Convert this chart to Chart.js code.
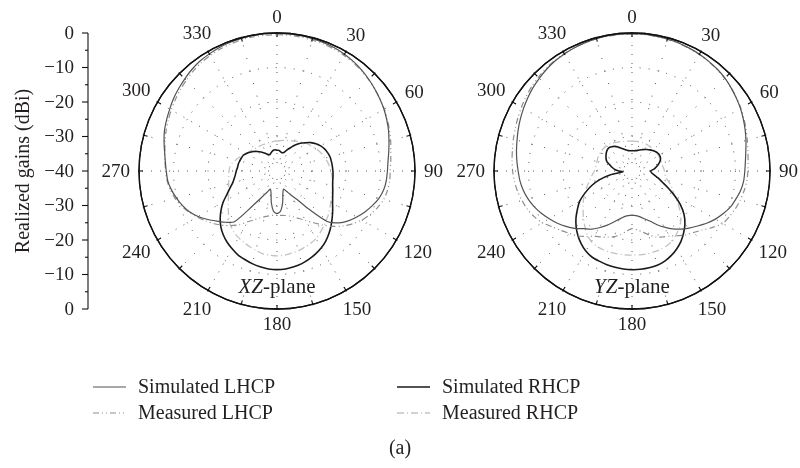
<!DOCTYPE html>
<html>
<head>
<meta charset="utf-8">
<script src="https://cdn.jsdelivr.net/npm/chart.js@4.4.1/dist/chart.umd.min.js"></script>
<style>
  html, body { margin: 0; padding: 0; background: #fff; }
  #wrap { position: relative; width: 800px; height: 468px; }
  #wrap canvas { position: absolute; left: 0; top: 0; }
</style>
</head>
<body>
<div id="wrap">
  <canvas id="xz" width="800" height="468"></canvas>
  <canvas id="yz" width="800" height="468"></canvas>
</div>
<script>
// Azimuth of every sample, degrees (0 at top, clockwise)
const angles = [0,5,10,15,20,25,30,35,40,45,50,55,60,65,70,75,80,85,90,95,100,105,110,115,
  120,125,130,135,140,145,150,155,160,165,170,175,180,185,190,195,200,205,210,215,220,225,230,235,
  240,245,250,255,260,265,270,275,280,285,290,295,300,305,310,315,320,325,330,335,340,345,350,355];

// Angular tick labels and gain axis ticks
const angleTickLabels = ['0','30','60','90','120','150','180','210','240','270','300','330'];
const gainTicks = [0, -10, -20, -30];
const gainCenterTick = -40;
const gainMinorTicks = [-5, -15, -25, -35];

// XZ-plane realized gains (dBi)
const xzSimLHCP = [-0.1,-0.1,-0.2,-0.3,-0.4,-0.6,-0.9,-1.3,-1.8,-2.4,-3.0,-3.6,-4.2,-4.9,-5.6,-6.4,-7.1,-7.7,
  -8.0,-8.2,-8.6,-9.4,-10.6,-11.9,-13.3,-14.8,-16.6,-19.2,-25.5,-30.0,-32.0,-33.5,-34.4,-33.4,-30.6,-28.3,
  -27.7,-28.3,-30.6,-33.3,-34.4,-33.2,-31.3,-27.6,-20.8,-19.0,-17.4,-15.5,-13.6,-12.0,-10.8,-9.8,-8.9,-8.2,
  -7.9,-7.5,-6.9,-6.1,-5.3,-4.7,-4.1,-3.4,-2.8,-2.2,-1.6,-1.1,-0.8,-0.5,-0.3,-0.2,-0.1,0];
const xzMeasLHCP = [-0.5,-0.5,-0.6,-0.7,-0.8,-1.0,-1.3,-1.6,-2.0,-2.5,-3.0,-3.6,-4.1,-4.7,-5.3,-5.9,-6.5,-6.9,
  -7.2,-7.2,-7.5,-8.0,-9.0,-10.2,-11.6,-13.3,-15.2,-17.3,-19.6,-21.7,-23.4,-24.8,-25.8,-26.5,-26.9,-27.1,
  -27.2,-27.1,-26.8,-26.3,-25.5,-24.4,-23.0,-21.0,-19.3,-17.8,-16.2,-14.8,-13.3,-11.8,-10.5,-9.4,-8.6,-8.0,
  -7.7,-7.4,-7.0,-6.4,-5.8,-5.2,-4.6,-4.0,-3.4,-2.8,-2.2,-1.7,-1.3,-1.0,-0.8,-0.6,-0.5,-0.5];
const xzSimRHCP = [-34.0,-34.0,-34.3,-34.5,-34.3,-33.3,-32.2,-30.8,-29.5,-28.4,-27.2,-26.2,-25.4,-24.8,-24.4,-24.1,-24.0,-23.9,
  -23.8,-23.7,-23.6,-23.3,-22.8,-22.2,-21.4,-20.3,-19.1,-17.8,-16.5,-15.3,-14.3,-13.5,-12.8,-12.2,-11.8,-11.5,
  -11.4,-11.5,-11.8,-12.2,-12.7,-13.2,-14.0,-14.8,-15.8,-17.0,-18.5,-20.2,-22.0,-24.0,-25.5,-26.7,-27.4,-27.9,
  -28.2,-28.5,-28.6,-28.8,-29.0,-29.2,-29.8,-30.5,-31.2,-32.0,-32.8,-33.6,-34.4,-34.8,-34.6,-34.2,-33.9,-33.8];
const xzMeasRHCP = [-31.3,-31.2,-31.0,-30.8,-30.6,-30.3,-30.0,-29.5,-29.0,-28.5,-28.0,-27.6,-27.0,-26.5,-26.0,-25.6,-25.1,-24.7,
  -24.4,-24.0,-23.6,-23.2,-22.9,-22.6,-22.0,-21.3,-20.5,-19.8,-19.0,-18.2,-17.4,-16.9,-16.5,-16.1,-15.8,-15.5,
  -15.4,-15.5,-15.7,-16.2,-16.7,-17.2,-17.7,-18.3,-19.2,-20.3,-21.6,-22.7,-23.7,-24.5,-25.0,-25.5,-25.8,-26.0,
  -26.1,-26.3,-26.8,-27.6,-28.4,-29.1,-29.7,-30.2,-30.6,-30.9,-31.1,-31.2,-31.3,-31.4,-31.4,-31.4,-31.4,-31.3];

// YZ-plane realized gains (dBi)
const yzSimLHCP = [-0.2,-0.2,-0.3,-0.4,-0.5,-0.7,-0.9,-1.2,-1.5,-1.9,-2.5,-3.1,-3.7,-4.4,-5.1,-5.8,-6.5,-7.0,
  -7.3,-7.5,-8.0,-8.8,-9.6,-10.8,-12.1,-13.6,-15.2,-16.6,-18.0,-19.5,-21.2,-22.8,-24.5,-25.6,-26.5,-27.0,
  -27.2,-27.0,-26.5,-25.5,-24.2,-22.6,-21.0,-19.4,-18.2,-16.5,-15.0,-13.6,-12.3,-11.0,-9.8,-8.8,-8.0,-7.4,
  -7.0,-6.5,-6.0,-5.5,-4.9,-4.3,-3.7,-3.1,-2.5,-2.0,-1.5,-1.1,-0.8,-0.6,-0.4,-0.3,-0.2,-0.2];
const yzMeasLHCP = [-0.3,-0.3,-0.4,-0.5,-0.6,-0.8,-1.0,-1.3,-1.6,-2.0,-2.5,-3.0,-3.6,-4.2,-4.8,-5.4,-5.9,-6.2,
  -6.4,-6.6,-7.0,-7.5,-8.1,-8.8,-9.6,-11.5,-13.4,-14.8,-15.8,-17.1,-18.2,-18.9,-19.6,-20.8,-22.0,-22.9,
  -23.3,-22.5,-21.3,-20.3,-19.6,-18.9,-18.2,-16.8,-15.5,-14.4,-13.2,-11.8,-10.0,-8.7,-7.7,-7.0,-6.3,-5.8,
  -5.4,-5.1,-4.8,-4.4,-4.0,-3.5,-3.0,-2.5,-2.0,-1.6,-1.2,-0.9,-0.7,-0.5,-0.4,-0.3,-0.3,-0.3];
const yzSimRHCP = [-34.1,-34.1,-34.0,-33.8,-33.5,-33.2,-32.8,-32.4,-32.0,-31.6,-31.2,-30.9,-30.8,-30.9,-31.3,-32.0,-32.8,-33.6,
  -34.6,-34.3,-33.5,-32.2,-30.7,-28.5,-25.8,-22.8,-20.3,-18.3,-16.7,-15.2,-14.0,-13.0,-12.2,-11.7,-11.5,-11.4,
  -11.4,-11.5,-11.7,-11.9,-12.2,-12.5,-13.2,-14.3,-15.6,-17.1,-18.8,-20.7,-22.5,-25.0,-27.5,-30.3,-33.5,-37.3,
  -36.2,-35.0,-34.2,-33.4,-32.3,-31.7,-31.3,-30.9,-30.6,-30.5,-30.8,-31.3,-32.0,-32.7,-33.3,-33.7,-34.0,-34.1];
const yzMeasRHCP = [-31.3,-31.3,-31.3,-31.3,-31.2,-31.2,-31.2,-31.2,-31.2,-31.2,-31.1,-31.1,-31.1,-31.1,-31.1,-31.1,-31.0,-30.8,
  -30.6,-30.4,-30.2,-29.2,-28.0,-27.0,-25.8,-23.8,-21.8,-20.0,-18.6,-17.6,-16.6,-16.1,-15.8,-15.7,-15.6,-15.6,
  -15.6,-15.6,-15.6,-15.6,-15.7,-15.9,-16.4,-17.4,-18.8,-20.2,-21.5,-22.7,-23.8,-25.0,-26.0,-27.0,-27.8,-28.5,
  -29.1,-29.4,-29.5,-29.5,-29.4,-29.4,-29.4,-29.4,-29.5,-29.6,-29.8,-30.1,-30.4,-30.7,-30.9,-31.1,-31.2,-31.3];

const SERIF = '"Liberation Serif", "DejaVu Serif", serif';
const TEXT_COLOR = '#231f20';
const DOT_COLOR = 'rgba(30,30,30,0.75)';

// Line styles of the four traces
const traceStyles = [
  { label: 'Simulated LHCP', borderColor: '#525252', borderWidth: 1.2, borderDash: [] },
  { label: 'Measured LHCP',  borderColor: '#8e8e8e', borderWidth: 1.2, borderDash: [6, 3, 1, 3, 1, 3] },
  { label: 'Simulated RHCP', borderColor: '#1a1a1a', borderWidth: 1.6, borderDash: [] },
  { label: 'Measured RHCP',  borderColor: '#c2c2c2', borderWidth: 1.3, borderDash: [7, 3, 1, 3] }
];

function buildDatasets(series) {
  return series.map((values, i) => Object.assign({}, traceStyles[i], {
    data: values, fill: false, pointRadius: 0, pointHitRadius: 0, tension: 0.25
  }));
}

// Ring ticks, angle labels, plane name, and (for the XZ chart) the gain axis, legend and caption
const polarDecor = {
  id: 'polarDecor',
  afterDatasetsDraw(chart, args, opts) {
    const s = chart.scales.r;
    const ctx = chart.ctx;
    const R = s.drawingArea;
    const cx = s.xCenter, cy = s.yCenter;
    ctx.save();

    // outer ring
    ctx.setLineDash([]);
    ctx.strokeStyle = '#111';
    ctx.lineWidth = 1.3;
    ctx.beginPath();
    ctx.arc(cx, cy, R, 0, Math.PI * 2);
    ctx.stroke();

    // ring ticks every 15 degrees
    ctx.lineWidth = 1.1;
    angles.forEach((a, i) => {
      if (a % 15 !== 0) return;
      const p1 = s.getPointPosition(i, R + 1);
      const p2 = s.getPointPosition(i, R - 4);
      ctx.beginPath();
      ctx.moveTo(p1.x, p1.y);
      ctx.lineTo(p2.x, p2.y);
      ctx.stroke();
    });

    // angle labels
    ctx.font = '19px ' + SERIF;
    ctx.fillStyle = TEXT_COLOR;
    ctx.textAlign = 'center';
    ctx.textBaseline = 'middle';
    angleTickLabels.forEach(txt => {
      const i = angles.indexOf(Number(txt));
      const th = s.getIndexAngle(i);
      const w = ctx.measureText(txt).width;
      const off = 9 + (w / 2) * Math.abs(Math.sin(th)) + 6.5 * Math.abs(Math.cos(th));
      const p = s.getPointPosition(i, R + off);
      ctx.fillText(txt, p.x, p.y + 1);
    });

    // plane name: italic axis letters followed by "-plane"
    const ital = 'italic 21px ' + SERIF, reg = '21px ' + SERIF;
    ctx.font = ital; const w1 = ctx.measureText(opts.planeAxes).width;
    ctx.font = reg;  const w2 = ctx.measureText('-plane').width;
    const px = cx - (w1 + w2) / 2, py = cy + R * 0.845;
    ctx.textAlign = 'left';
    ctx.font = ital; ctx.fillText(opts.planeAxes, px, py);
    ctx.font = reg;  ctx.fillText('-plane', px + w1, py);

    if (opts.withAxis) {
      const ax = opts.axisX;
      const yUp = v => cy - s.getDistanceFromCenterForValue(v);
      const yDn = v => cy + s.getDistanceFromCenterForValue(v);
      const lbl = v => v === 0 ? '0' : '\u2212' + Math.abs(v);
      ctx.strokeStyle = '#111';
      ctx.lineWidth = 1.1;
      ctx.beginPath();
      ctx.moveTo(ax, yUp(0));
      ctx.lineTo(ax, yDn(0));
      ctx.stroke();
      ctx.font = '19px ' + SERIF;
      ctx.textAlign = 'right';
      ctx.textBaseline = 'middle';
      const majorTick = (y, text) => {
        ctx.beginPath(); ctx.moveTo(ax - 6, y); ctx.lineTo(ax, y); ctx.stroke();
        ctx.fillText(text, ax - 14, y + 1);
      };
      gainTicks.forEach(v => {
        majorTick(yUp(v), lbl(v));
        majorTick(yDn(v), lbl(v));
      });
      majorTick(cy, lbl(gainCenterTick));
      gainMinorTicks.forEach(v => {
        [yUp(v), yDn(v)].forEach(y => {
          ctx.beginPath(); ctx.moveTo(ax - 3, y); ctx.lineTo(ax, y); ctx.stroke();
        });
      });
      // axis title
      ctx.save();
      ctx.font = '20px ' + SERIF;
      ctx.translate(opts.titleX, cy);
      ctx.rotate(-Math.PI / 2);
      ctx.textAlign = 'center';
      ctx.fillText('Realized gains (dBi)', 0, 0);
      ctx.restore();

      // legend in two columns
      ctx.font = '20px ' + SERIF;
      const slots = [
        { col: 0, row: 0 }, { col: 0, row: 1 }, { col: 1, row: 0 }, { col: 1, row: 1 }
      ];
      chart.data.datasets.forEach((ds, i) => {
        const sl = slots[i];
        const x0 = opts.legendCols[sl.col];
        const y = opts.legendTop + sl.row * opts.legendRowGap;
        ctx.strokeStyle = ds.borderColor;
        ctx.lineWidth = ds.borderWidth;
        ctx.setLineDash(ds.borderDash);
        ctx.beginPath(); ctx.moveTo(x0, y); ctx.lineTo(x0 + 33, y); ctx.stroke();
        ctx.setLineDash([]);
        ctx.fillStyle = TEXT_COLOR;
        ctx.textAlign = 'left';
        ctx.fillText(ds.label, x0 + 45, y + 1);
      });

      // panel caption
      ctx.textAlign = 'center';
      ctx.fillText('(a)', opts.captionX, opts.captionY);
    }
    ctx.restore();
  }
};

function radarConfig(series, padding, decor) {
  return {
    type: 'radar',
    data: { labels: angles, datasets: buildDatasets(series) },
    options: {
      responsive: false,
      animation: false,
      events: [],
      layout: { padding },
      plugins: { legend: { display: false }, tooltip: { enabled: false }, polarDecor: decor },
      scales: {
        r: {
          min: -40, max: 0, startAngle: 0,
          ticks: { display: false, stepSize: 10 },
          pointLabels: { display: false },
          grid: {
            circular: true,
            color: c => (c.tick && c.tick.value === 0) ? '#111' : DOT_COLOR,
            lineWidth: c => (c.tick && c.tick.value === 0) ? 1.3 : 1
          },
          border: { dash: c => (c.tick && c.tick.value === 0) ? [] : [1, 8] },
          angleLines: {
            color: c => (angles[c.index] % 15 === 0) ? DOT_COLOR : 'rgba(0,0,0,0)',
            lineWidth: 1,
            // dotted spokes; the first dot sits away from the hub, later on the 15° spokes
            borderDash: c => (angles[c.index] % 30 === 0) ? [1, 8] : [1, 12],
            borderDashOffset: 1
          }
        }
      }
    },
    plugins: [polarDecor]
  };
}

new Chart(document.getElementById('xz'), radarConfig(
  [xzSimLHCP, xzMeasLHCP, xzSimRHCP, xzMeasRHCP],
  { left: 139, top: 33, right: 385, bottom: 159 },
  { planeAxes: 'XZ', withAxis: true, axisX: 88, titleX: 24,
    legendCols: [93, 397], legendTop: 387, legendRowGap: 26, captionX: 400, captionY: 449 }
));

new Chart(document.getElementById('yz'), radarConfig(
  [yzSimLHCP, yzMeasLHCP, yzSimRHCP, yzMeasRHCP],
  { left: 494, top: 33, right: 30, bottom: 159 },
  { planeAxes: 'YZ', withAxis: false }
));
</script>
</body>
</html>
